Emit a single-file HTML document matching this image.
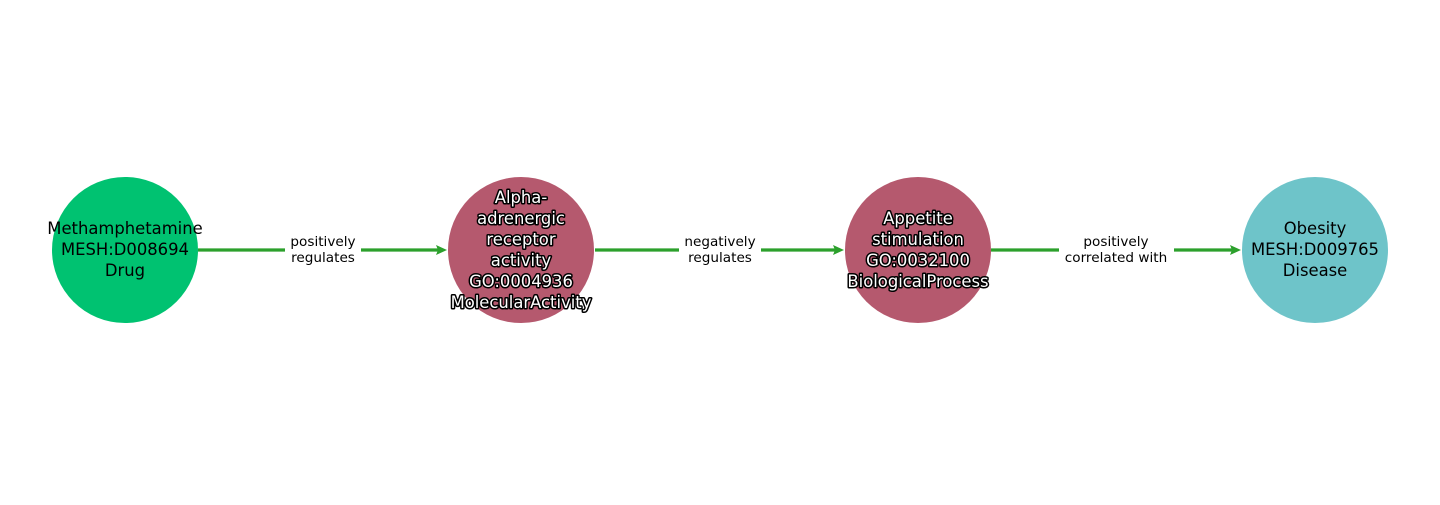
<!DOCTYPE html>
<html><head><style>html,body{margin:0;padding:0;background:#fff}</style></head>
<body>
<svg width="1440" height="500" xmlns="http://www.w3.org/2000/svg" font-family="DejaVu Sans, sans-serif">
<rect width="1440" height="500" fill="#fff"/>
<g stroke="#2ca02c" stroke-width="3.2" fill="none">
<line x1="198" y1="250" x2="285" y2="250"/><line x1="361" y1="250" x2="442" y2="250"/>
<line x1="595" y1="250" x2="679" y2="250"/><line x1="761" y1="250" x2="839" y2="250"/>
<line x1="991" y1="250" x2="1059" y2="250"/><line x1="1174" y1="250" x2="1236" y2="250"/>
</g>
<g fill="#2ca02c">
<polygon points="447,250 436,245 438,250 436,255"/>
<polygon points="844,250 833,245 835,250 833,255"/>
<polygon points="1241,250 1230,245 1232,250 1230,255"/>
</g>
<circle cx="125" cy="250" r="73" fill="#00c271"/>
<circle cx="521" cy="250" r="73" fill="#b5596e"/>
<circle cx="918" cy="250" r="73" fill="#b5596e"/>
<circle cx="1315" cy="250" r="73" fill="#6ec4c9"/>
<g font-size="16.4" text-anchor="middle" fill="#000">
<text x="125" y="234">Methamphetamine</text><text x="125" y="255">MESH:D008694</text><text x="125" y="276">Drug</text>
<text x="1315" y="234">Obesity</text><text x="1315" y="255">MESH:D009765</text><text x="1315" y="276">Disease</text>
</g>
<g font-size="16.4" text-anchor="middle" fill="#fff" stroke="#000" stroke-width="3" paint-order="stroke" stroke-linejoin="round">
<text x="521" y="203">Alpha-</text><text x="521" y="224">adrenergic</text><text x="521" y="245">receptor</text><text x="521" y="266">activity</text><text x="521" y="287">GO:0004936</text><text x="521" y="308">MolecularActivity</text>
<text x="918" y="224">Appetite</text><text x="918" y="245">stimulation</text><text x="918" y="266">GO:0032100</text><text x="918" y="287">BiologicalProcess</text>
</g>
<g font-size="13.6" text-anchor="middle" fill="#000">
<text x="323" y="246">positively</text><text x="323" y="262">regulates</text>
<text x="720" y="246">negatively</text><text x="720" y="262">regulates</text>
<text x="1116" y="246">positively</text><text x="1116" y="262">correlated with</text>
</g>
</svg>
</body></html>
